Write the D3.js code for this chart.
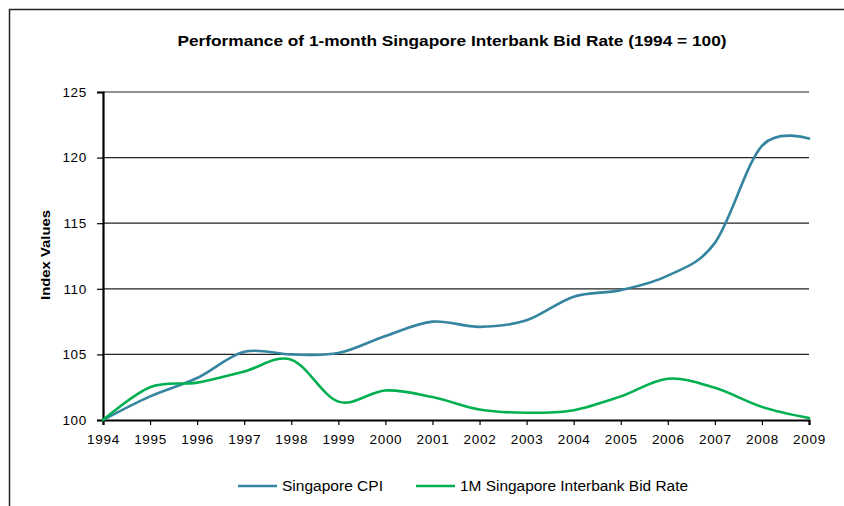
<!DOCTYPE html>
<html>
<head>
<meta charset="utf-8">
<script src="https://cdn.jsdelivr.net/npm/d3@7"></script>
<style>
  body { margin: 0; background: #fff; }
  svg { display: block; font-family: "Liberation Sans", Arial, sans-serif; }
</style>
</head>
<body>
<svg id="chart" width="844" height="506"></svg>
<script>
// chart values
var years = [1994, 1995, 1996, 1997, 1998, 1999, 2000, 2001, 2002, 2003, 2004, 2005, 2006, 2007, 2008, 2009];
var cpiValues = [100, 101.8, 103.2, 105.2, 105.0, 105.1, 106.4, 107.5, 107.1, 107.6, 109.4, 109.9, 111.0, 113.5, 120.9, 121.45];
var sibidValues = [100, 102.5, 102.85, 103.7, 104.6, 101.4, 102.25, 101.75, 100.8, 100.55, 100.75, 101.8, 103.15, 102.45, 101.0, 100.15];
var yTicks = [100, 105, 110, 115, 120, 125];
var seriesNames = ["Singapore CPI", "1M Singapore Interbank Bid Rate"];
var seriesColours = ["#3585a0", "#00b050"];

var svg = d3.select("#chart");

// outer chart border (only top and left edges show in the frame)
svg.append("rect")
  .attr("x", 9.5).attr("y", 9.5)
  .attr("width", 900).attr("height", 600)
  .attr("fill", "none")
  .attr("stroke", "#222")
  .attr("stroke-width", 1.5);

var plot = { left: 103, right: 809, top: 92, bottom: 420 };

var x = d3.scaleLinear().domain([1994, 2009]).range([plot.left, plot.right]);
var y = d3.scaleLinear().domain([100, 125]).range([plot.bottom, plot.top]);

// title
svg.append("text")
  .attr("x", 452).attr("y", 46)
  .attr("text-anchor", "middle")
  .attr("textLength", 549)
  .attr("lengthAdjust", "spacingAndGlyphs")
  .style("font-size", "15px")
  .style("font-weight", "bold")
  .text("Performance of 1-month Singapore Interbank Bid Rate (1994 = 100)");

// gridlines
svg.append("g")
  .selectAll("line")
  .data(yTicks.filter(function (d) { return d > 100; }))
  .join("line")
  .attr("x1", plot.left).attr("x2", plot.right)
  .attr("y1", function (d) { return y(d); })
  .attr("y2", function (d) { return y(d); })
  .attr("stroke", "#222")
  .attr("stroke-width", 1.2);

// y axis
var yAxis = svg.append("g")
  .attr("transform", "translate(" + plot.left + ",0)")
  .call(d3.axisLeft(y).tickValues(yTicks).tickSize(6).tickPadding(10).tickFormat(d3.format("d")));
yAxis.select(".domain").attr("stroke", "#000").attr("stroke-width", 2.2);
yAxis.selectAll(".tick line").attr("stroke", "#000").attr("stroke-width", 1.2);
yAxis.selectAll("text")
  .style("font-size", "13.5px")
  .style("letter-spacing", "0.7px")
  .attr("fill", "#000")
  .attr("font-family", null);

// x axis
var xAxis = svg.append("g")
  .attr("transform", "translate(0," + plot.bottom + ")")
  .call(d3.axisBottom(x).tickValues(years).tickSize(5).tickPadding(9).tickFormat(d3.format("d")));
xAxis.select(".domain").attr("stroke", "#000").attr("stroke-width", 2.2);
xAxis.selectAll(".tick line").attr("stroke", "#000").attr("stroke-width", 1.2);
xAxis.selectAll("text")
  .style("font-size", "13.5px")
  .style("letter-spacing", "0.7px")
  .attr("fill", "#000")
  .attr("font-family", null);

// y axis title
svg.append("text")
  .attr("transform", "translate(50,255) rotate(-90)")
  .attr("text-anchor", "middle")
  .attr("textLength", 90)
  .attr("lengthAdjust", "spacingAndGlyphs")
  .style("font-size", "13px")
  .style("font-weight", "bold")
  .text("Index Values");

// smoothed lines
var line = d3.line()
  .x(function (d, i) { return x(years[i]); })
  .y(function (d) { return y(d); })
  .curve(d3.curveCardinal);

[cpiValues, sibidValues].forEach(function (vals, i) {
  svg.append("path")
    .datum(vals)
    .attr("d", line)
    .attr("fill", "none")
    .attr("stroke", seriesColours[i])
    .attr("stroke-width", 2.6)
    .attr("stroke-linecap", "round");
});

// legend
var legendX = [238, 416];
var legendW = [101, 228];
var legend = svg.append("g")
  .selectAll("g")
  .data(seriesNames)
  .join("g")
  .attr("transform", function (d, i) { return "translate(" + legendX[i] + ",486)"; });
legend.append("line")
  .attr("x1", 0).attr("x2", 39)
  .attr("stroke", function (d, i) { return seriesColours[i]; })
  .attr("stroke-width", 2.6);
legend.append("text")
  .attr("x", 44).attr("y", 5)
  .attr("textLength", function (d, i) { return legendW[i]; })
  .attr("lengthAdjust", "spacingAndGlyphs")
  .style("font-size", "14px")
  .text(function (d) { return d; });
</script>
</body>
</html>
